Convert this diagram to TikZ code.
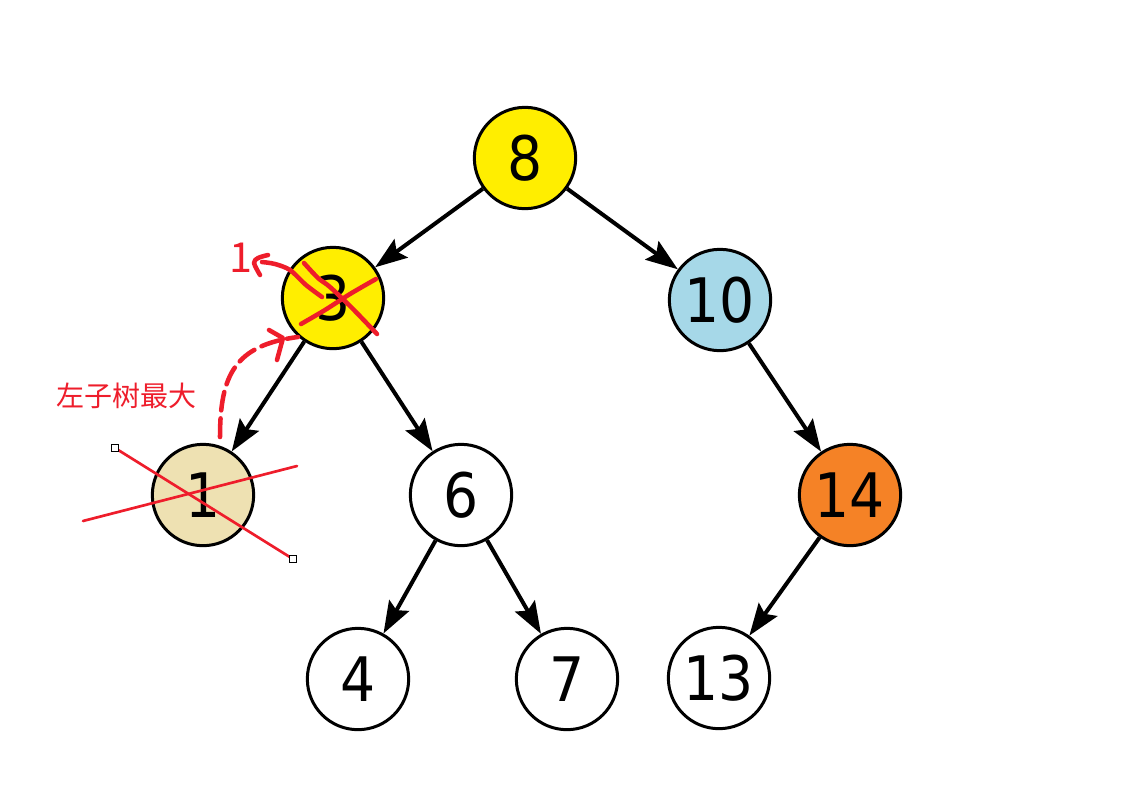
\documentclass[tikz,border=0pt]{standalone}
\usepackage{fontspec}
\usetikzlibrary{arrows.meta}
\newfontfamily\numfont{DejaVu Sans Condensed}
\newfontfamily\cjk{Noto Sans CJK SC}
\definecolor{nyellow}{HTML}{FFEE00}
\definecolor{nblue}{HTML}{A6D8E8}
\definecolor{norange}{HTML}{F58226}
\definecolor{ntan}{HTML}{EEE1B2}
\definecolor{redink}{HTML}{EE1D2B}
\begin{document}
\begin{tikzpicture}[x=0.75pt,y=-0.75pt,
  tn/.style={circle,draw=black,line width=2.25pt,minimum size=76pt,inner sep=0pt,
    font=\numfont\fontsize{46}{46}\selectfont},
  edge/.style={line width=3pt,-{Stealth[length=24pt,width=17pt,inset=4pt]}},
  ink/.style={draw=redink,line width=3.4pt,line cap=round,line join=round},
  thinink/.style={draw=redink,line width=2pt,line cap=round},
  handle/.style={draw=black,fill=white,line width=0.75pt,minimum size=5pt,inner sep=0pt,rectangle}
]
\useasboundingbox (0,0) rectangle (1130,811);
% tree nodes
\node[tn,fill=nyellow] (n8) at (525,158) {8};
\node[tn,fill=nyellow] (n3) at (333,298) {3};
\node[tn,fill=nblue] (n10) at (720,300) {10};
\node[tn,fill=ntan] (n1) at (203,495) {1};
\node[tn,fill=white] (n6) at (461,495) {6};
\node[tn,fill=norange] (n14) at (850,495) {14};
\node[tn,fill=white] (n4) at (358,679) {4};
\node[tn,fill=white] (n7) at (567,679) {7};
\node[tn,fill=white] (n13) at (719,678) {13};
% edges
\draw[edge] (n8) -- (n3);
\draw[edge] (n8) -- (n10);
\draw[edge] (n3) -- (n1);
\draw[edge] (n3) -- (n6);
\draw[edge] (n10) -- (n14);
\draw[edge] (n6) -- (n4);
\draw[edge] (n6) -- (n7);
\draw[edge] (n14) -- (n13);
% red annotations
\node[text=redink,font=\cjk\fontsize{21}{21}\selectfont] (lbl) at (126,396) {左子树最大};
\node[text=redink,font=\cjk\fontsize{31}{31}\selectfont] (one) at (241,258) {1};
% cross over 3
\draw[ink] plot[smooth] coordinates {(304,263) (318,278) (330,287) (352,308) (377,334)};
\draw[ink] plot[smooth] coordinates {(301,324) (325,310) (350,294) (376,279)};
% arrow from 3 to the label 1
\draw[ink] plot[smooth] coordinates {(322,297) (306,285) (290,270) (275,264) (262,262)};
\draw[ink] plot[smooth] coordinates {(268,255) (258,258) (254,263) (260,275)};
% dashed curve from 1 to 3
\coordinate (ds) at (220,437);
\coordinate (de) at (298,337);
\draw[ink,dash pattern=on 14pt off 6pt] (ds) .. controls (220,375) and (235,345) .. (de);
\draw[ink] (269,330) -- (283,338) -- (277,360);
% strike lines across 1
\coordinate (a1) at (115,448);
\coordinate (a2) at (293,559);
\draw[thinink] (a1) -- (a2);
\draw[thinink] (83,521) -- (297,466);
\node[handle] at (a1) {};
\node[handle] at (a2) {};
\end{tikzpicture}
\end{document}
